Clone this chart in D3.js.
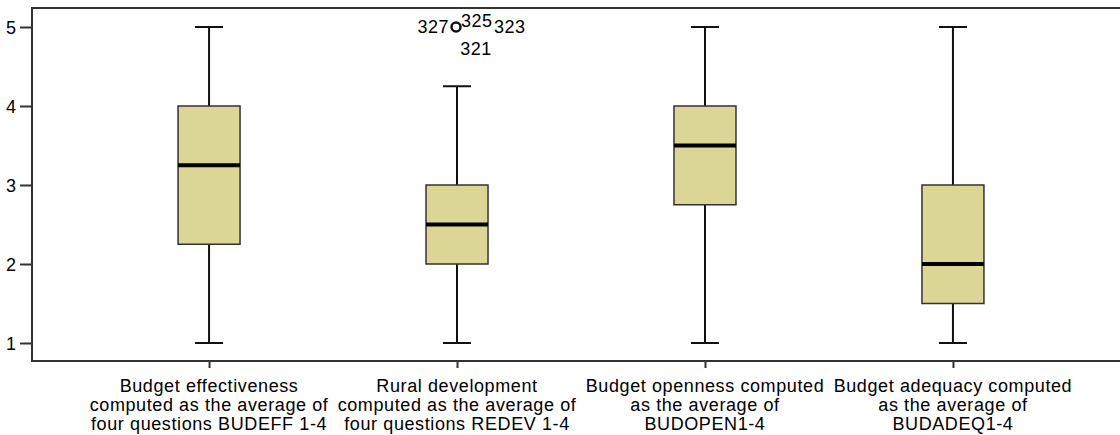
<!DOCTYPE html>
<html>
<head>
<meta charset="utf-8">
<script src="https://cdn.jsdelivr.net/npm/d3@7"></script>
<style>
  html, body { margin: 0; padding: 0; background: #fff; }
  svg { display: block; font-family: "Liberation Sans", Arial, sans-serif; }
</style>
</head>
<body>
<div id="chart"></div>
<script>
// Box plot: four budget indices (SPSS-style)

const CATEGORIES = ["BUDEFF", "REDEV", "BUDOPEN", "BUDADEQ"];

const CAT_LABELS = [
  ["Budget effectiveness", "computed as the average of", "four questions BUDEFF 1-4"],
  ["Rural development", "computed as the average of", "four questions REDEV 1-4"],
  ["Budget openness computed", "as the average of", "BUDOPEN1-4"],
  ["Budget adequacy computed", "as the average of", "BUDADEQ1-4"],
];

const MINS    = [1,    1,    1,    1];
const Q1S     = [2.25, 2,    2.75, 1.5];
const MEDIANS = [3.25, 2.5,  3.5,  2];
const Q3S     = [4,    3,    4,    3];
const MAXS    = [5,    4.25, 5,    5];

// outliers: category, value, case labels
const OUTLIER_CATS   = ["REDEV"];
const OUTLIER_VALUES = [5];
const OUTLIER_IDS    = [["327", "325", "323", "321"]];

const Y_TICKS = [1, 2, 3, 4, 5];

const W = 1120, H = 435;
const plotL = 32, plotT = 8, plotB = 361, plotR = 1130;

const svg = d3.select("#chart").append("svg")
  .attr("width", W).attr("height", H);

const x = d3.scalePoint()
  .domain(CATEGORIES)
  .range([plotL, plotR])
  .padding(0.714);

const y = d3.scaleLinear()
  .domain([1, 5])
  .range([343, 27]);

const boxHalf = 31;
const capHalf = 14;
const FILL = "#dbd696";

// ── Frame ───────────────────────────────────────────────────────────────────
svg.append("rect")
  .attr("x", plotL).attr("y", plotT)
  .attr("width", plotR - plotL).attr("height", plotB - plotT)
  .attr("fill", "none").attr("stroke", "#333").attr("stroke-width", 2);

// ── Y axis ──────────────────────────────────────────────────────────────────
const yAxis = svg.append("g")
  .attr("transform", `translate(${plotL},0)`)
  .call(d3.axisLeft(y).tickValues(Y_TICKS).tickFormat(d3.format("d")).tickSize(12).tickPadding(4));
yAxis.select(".domain").remove();
yAxis.selectAll(".tick line").attr("stroke", "#333").attr("stroke-width", 2);
yAxis.selectAll(".tick text")
  .style("font-size", "18px").style("font-family", "Liberation Sans, Arial, sans-serif")
  .attr("fill", "#000").attr("dy", "0.36em");

// ── X axis ──────────────────────────────────────────────────────────────────
const xAxis = svg.append("g")
  .attr("transform", `translate(0,${plotB})`)
  .call(d3.axisBottom(x).tickSize(7).tickFormat(""));
xAxis.select(".domain").remove();
xAxis.selectAll(".tick line").attr("stroke", "#333").attr("stroke-width", 2);

CATEGORIES.forEach((c, i) => {
  const t = svg.append("text")
    .attr("x", x(c)).attr("y", 392)
    .attr("text-anchor", "middle")
    .style("font-size", "18px")
    .style("letter-spacing", "0.6px")
    .attr("fill", "#000");
  CAT_LABELS[i].forEach((line, j) => {
    t.append("tspan").attr("x", x(c)).attr("dy", j === 0 ? 0 : 19).text(line);
  });
});

// ── Boxes ───────────────────────────────────────────────────────────────────
CATEGORIES.forEach((c, i) => {
  const cx = x(c);
  const g = svg.append("g");

  // whiskers
  g.append("line")
    .attr("x1", cx).attr("x2", cx)
    .attr("y1", y(MINS[i])).attr("y2", y(Q1S[i]))
    .attr("stroke", "#111").attr("stroke-width", 2);
  g.append("line")
    .attr("x1", cx).attr("x2", cx)
    .attr("y1", y(Q3S[i])).attr("y2", y(MAXS[i]))
    .attr("stroke", "#111").attr("stroke-width", 2);
  [MINS[i], MAXS[i]].forEach(v => {
    g.append("line")
      .attr("x1", cx - capHalf).attr("x2", cx + capHalf)
      .attr("y1", y(v)).attr("y2", y(v))
      .attr("stroke", "#111").attr("stroke-width", 2);
  });

  // IQR box
  g.append("rect")
    .attr("x", cx - boxHalf).attr("y", y(Q3S[i]))
    .attr("width", boxHalf * 2)
    .attr("height", y(Q1S[i]) - y(Q3S[i]))
    .attr("fill", FILL).attr("stroke", "#333").attr("stroke-width", 1.5);

  // median
  g.append("line")
    .attr("x1", cx - boxHalf).attr("x2", cx + boxHalf)
    .attr("y1", y(MEDIANS[i])).attr("y2", y(MEDIANS[i]))
    .attr("stroke", "#000").attr("stroke-width", 4);
});

// ── Outliers ────────────────────────────────────────────────────────────────
const LABEL_OFFSETS = [
  { dx: -7, dy: 6,  anchor: "end" },
  { dx: 5,  dy: 0,  anchor: "start" },
  { dx: 38, dy: 6,  anchor: "start" },
  { dx: 20, dy: 28, anchor: "middle" },
];

OUTLIER_CATS.forEach((c, i) => {
  const cx = x(c) - 1, cy = y(OUTLIER_VALUES[i]);
  svg.append("circle")
    .attr("cx", cx).attr("cy", cy).attr("r", 4.5)
    .attr("fill", "none").attr("stroke", "#111").attr("stroke-width", 2.5);
  OUTLIER_IDS[i].forEach((id, j) => {
    const o = LABEL_OFFSETS[j];
    svg.append("text")
      .attr("x", cx + o.dx).attr("y", cy + o.dy)
      .attr("text-anchor", o.anchor)
      .style("font-size", "18px")
      .style("letter-spacing", "0.5px")
      .attr("fill", "#000")
      .text(id);
  });
});
</script>
</body>
</html>
